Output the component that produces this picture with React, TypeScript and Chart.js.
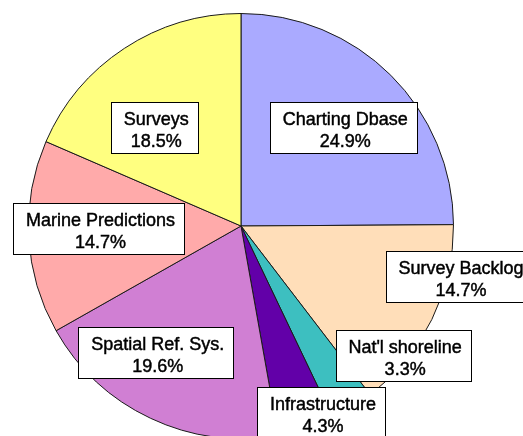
import React, { useEffect, useRef } from "react";
import { Chart, registerables } from "chart.js";

Chart.register(...registerables);

// Budget shares, clockwise from 12 o'clock
const categories = [
  "Charting Dbase",
  "Survey Backlog",
  "Nat'l shoreline",
  "Infrastructure",
  "Spatial Ref. Sys.",
  "Marine Predictions",
  "Surveys",
];
const shares = [24.9, 14.7, 3.3, 4.3, 19.6, 14.7, 18.5];
const sliceColors = [
  "#AAAAFF",
  "#FFDEB9",
  "#3DBFC0",
  "#6200A8",
  "#D07FD3",
  "#FFAAAA",
  "#FFFF80",
];

// Callout box centres, as fractions of the pie radius from its centre
const calloutOffsets: [number, number][] = [
  [0.481, -0.462],
  [1.026, 0.239],
  [0.763, 0.61],
  [0.376, 0.876],
  [-0.401, 0.596],
  [-0.671, 0.012],
  [-0.408, -0.465],
];

const W = 523;
const H = 452;

const calloutPlugin = {
  id: "callouts",
  afterDraw(chart: any) {
    const meta = chart.getDatasetMeta(0);
    const first = meta.data[0];
    if (!first) return;
    const cx = first.x;
    const cy = first.y;
    const r = first.outerRadius;
    const ctx = chart.ctx;
    ctx.save();
    ctx.font = '18px "Liberation Sans", Arial, sans-serif';
    ctx.textAlign = "center";
    ctx.textBaseline = "alphabetic";
    categories.forEach((name, i) => {
      const [fx, fy] = calloutOffsets[i];
      const bx = cx + fx * r;
      const by = cy + fy * r;
      const pct = shares[i].toFixed(1) + "%";
      const tw = Math.max(ctx.measureText(name).width, ctx.measureText(pct).width);
      const bw = Math.round(tw + 22);
      const bh = 51;
      const left = Math.round(bx - bw / 2) + 0.5;
      const top = Math.round(by - bh / 2) + 0.5;
      ctx.fillStyle = "#FFFFFF";
      ctx.fillRect(left, top, bw, bh);
      ctx.strokeStyle = "#000000";
      ctx.lineWidth = 1;
      ctx.strokeRect(left, top, bw, bh);
      // slightly heavier lettering
      ctx.fillStyle = "#000000";
      ctx.lineWidth = 0.45;
      const tx = bx + 2;
      ctx.fillText(name, tx, top + 22);
      ctx.strokeText(name, tx, top + 22);
      ctx.fillText(pct, tx, top + 44);
      ctx.strokeText(pct, tx, top + 44);
    });
    ctx.restore();
  },
};

export default function App() {
  const canvasRef = useRef<HTMLCanvasElement | null>(null);

  useEffect(() => {
    if (!canvasRef.current) return;
    const chart = new Chart(canvasRef.current, {
      type: "pie",
      data: {
        labels: categories,
        datasets: [
          {
            data: shares,
            backgroundColor: sliceColors,
            borderColor: "#1a1a1a",
            borderWidth: 1,
          },
        ],
      },
      options: {
        responsive: false,
        animation: false,
        layout: { padding: { left: 28, top: 13, right: W - 28 - 426, bottom: H - 13 - 426 } },
        plugins: {
          legend: { display: false },
          tooltip: { enabled: false },
        },
      },
      plugins: [calloutPlugin],
    });
    return () => chart.destroy();
  }, []);

  return (
    <div
      style={{
        position: "fixed",
        left: 0,
        top: 0,
        width: W,
        height: H,
        background: "#FFFFFF",
      }}
    >
      <canvas ref={canvasRef} width={W} height={H} style={{ width: W, height: H }} />
    </div>
  );
}
